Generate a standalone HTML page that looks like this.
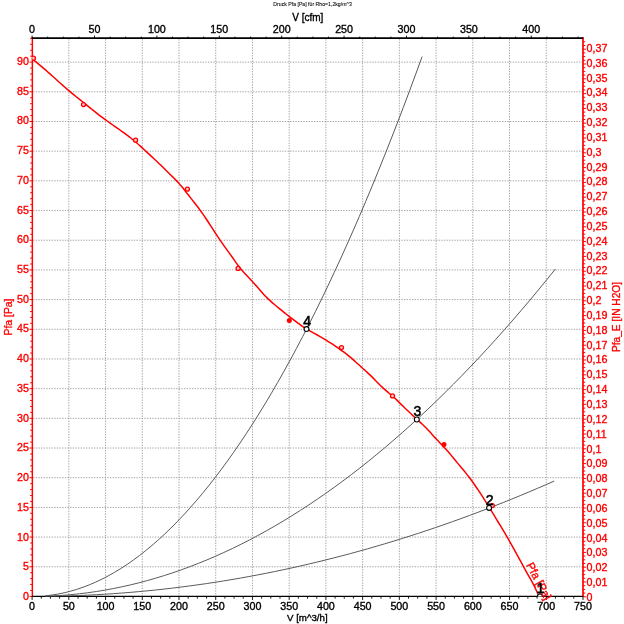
<!DOCTYPE html>
<html><head><meta charset="utf-8"><title>Druck Pfa</title>
<style>
html,body{margin:0;padding:0;background:#fff;width:624px;height:624px;overflow:hidden;}
svg{display:block;will-change:transform;}
text{font-family:"Liberation Sans",Arial,sans-serif;stroke-width:0.35px;}
.r text,text.r{fill:#ff0000;stroke:#ff0000;}
.k text,text.k{fill:#000;stroke:#000;}
</style></head>
<body>
<svg width="624" height="624" viewBox="0 0 624 624">
<rect width="624" height="624" fill="#fff"/>
<path d="M68.83 39.20V596.45M105.55 39.20V596.45M142.28 39.20V596.45M179.00 39.20V596.45M215.72 39.20V596.45M252.45 39.20V596.45M289.18 39.20V596.45M325.90 39.20V596.45M362.63 39.20V596.45M399.35 39.20V596.45M436.08 39.20V596.45M472.80 39.20V596.45M509.53 39.20V596.45M546.25 39.20V596.45M33.10 566.77H582.98M33.10 537.08H582.98M33.10 507.40H582.98M33.10 477.71H582.98M33.10 448.03H582.98M33.10 418.34H582.98M33.10 388.66H582.98M33.10 358.97H582.98M33.10 329.29H582.98M33.10 299.60H582.98M33.10 269.92H582.98M33.10 240.23H582.98M33.10 210.55H582.98M33.10 180.86H582.98M33.10 151.18H582.98M33.10 121.49H582.98M33.10 91.81H582.98M33.10 62.12H582.98" stroke="#a0a0a0" stroke-width="1" stroke-dasharray="1.3 1.35" fill="none"/>
<path d="M29.50 596.45H32.10M30.20 590.51H32.10M30.20 584.58H32.10M30.20 578.64H32.10M30.20 572.70H32.10M29.50 566.77H32.10M30.20 560.83H32.10M30.20 554.89H32.10M30.20 548.95H32.10M30.20 543.02H32.10M29.50 537.08H32.10M30.20 531.14H32.10M30.20 525.21H32.10M30.20 519.27H32.10M30.20 513.33H32.10M29.50 507.40H32.10M30.20 501.46H32.10M30.20 495.52H32.10M30.20 489.58H32.10M30.20 483.65H32.10M29.50 477.71H32.10M30.20 471.77H32.10M30.20 465.84H32.10M30.20 459.90H32.10M30.20 453.96H32.10M29.50 448.03H32.10M30.20 442.09H32.10M30.20 436.15H32.10M30.20 430.21H32.10M30.20 424.28H32.10M29.50 418.34H32.10M30.20 412.40H32.10M30.20 406.47H32.10M30.20 400.53H32.10M30.20 394.59H32.10M29.50 388.66H32.10M30.20 382.72H32.10M30.20 376.78H32.10M30.20 370.84H32.10M30.20 364.91H32.10M29.50 358.97H32.10M30.20 353.03H32.10M30.20 347.10H32.10M30.20 341.16H32.10M30.20 335.22H32.10M29.50 329.29H32.10M30.20 323.35H32.10M30.20 317.41H32.10M30.20 311.47H32.10M30.20 305.54H32.10M29.50 299.60H32.10M30.20 293.66H32.10M30.20 287.73H32.10M30.20 281.79H32.10M30.20 275.85H32.10M29.50 269.92H32.10M30.20 263.98H32.10M30.20 258.04H32.10M30.20 252.10H32.10M30.20 246.17H32.10M29.50 240.23H32.10M30.20 234.29H32.10M30.20 228.36H32.10M30.20 222.42H32.10M30.20 216.48H32.10M29.50 210.55H32.10M30.20 204.61H32.10M30.20 198.67H32.10M30.20 192.73H32.10M30.20 186.80H32.10M29.50 180.86H32.10M30.20 174.92H32.10M30.20 168.99H32.10M30.20 163.05H32.10M30.20 157.11H32.10M29.50 151.18H32.10M30.20 145.24H32.10M30.20 139.30H32.10M30.20 133.36H32.10M30.20 127.43H32.10M29.50 121.49H32.10M30.20 115.55H32.10M30.20 109.62H32.10M30.20 103.68H32.10M30.20 97.74H32.10M29.50 91.81H32.10M30.20 85.87H32.10M30.20 79.93H32.10M30.20 73.99H32.10M30.20 68.06H32.10M29.50 62.12H32.10M30.20 56.18H32.10M30.20 50.25H32.10M30.20 44.31H32.10M30.20 38.37H32.10M582.98 596.80H585.98M582.98 593.10H585.27M582.98 589.40H585.27M582.98 585.70H585.27M582.98 582.00H585.98M582.98 578.30H585.27M582.98 574.60H585.27M582.98 570.90H585.27M582.98 567.20H585.98M582.98 563.50H585.27M582.98 559.80H585.27M582.98 556.10H585.27M582.98 552.40H585.98M582.98 548.70H585.27M582.98 545.00H585.27M582.98 541.30H585.27M582.98 537.60H585.98M582.98 533.90H585.27M582.98 530.20H585.27M582.98 526.50H585.27M582.98 522.80H585.98M582.98 519.10H585.27M582.98 515.40H585.27M582.98 511.70H585.27M582.98 508.00H585.98M582.98 504.30H585.27M582.98 500.60H585.27M582.98 496.90H585.27M582.98 493.20H585.98M582.98 489.50H585.27M582.98 485.80H585.27M582.98 482.10H585.27M582.98 478.40H585.98M582.98 474.70H585.27M582.98 471.00H585.27M582.98 467.30H585.27M582.98 463.60H585.98M582.98 459.90H585.27M582.98 456.20H585.27M582.98 452.50H585.27M582.98 448.80H585.98M582.98 445.10H585.27M582.98 441.40H585.27M582.98 437.70H585.27M582.98 434.00H585.98M582.98 430.30H585.27M582.98 426.60H585.27M582.98 422.90H585.27M582.98 419.20H585.98M582.98 415.50H585.27M582.98 411.80H585.27M582.98 408.10H585.27M582.98 404.40H585.98M582.98 400.70H585.27M582.98 397.00H585.27M582.98 393.30H585.27M582.98 389.60H585.98M582.98 385.90H585.27M582.98 382.20H585.27M582.98 378.50H585.27M582.98 374.80H585.98M582.98 371.10H585.27M582.98 367.40H585.27M582.98 363.70H585.27M582.98 360.00H585.98M582.98 356.30H585.27M582.98 352.60H585.27M582.98 348.90H585.27M582.98 345.20H585.98M582.98 341.50H585.27M582.98 337.80H585.27M582.98 334.10H585.27M582.98 330.40H585.98M582.98 326.70H585.27M582.98 323.00H585.27M582.98 319.30H585.27M582.98 315.60H585.98M582.98 311.90H585.27M582.98 308.20H585.27M582.98 304.50H585.27M582.98 300.80H585.98M582.98 297.10H585.27M582.98 293.40H585.27M582.98 289.70H585.27M582.98 286.00H585.98M582.98 282.30H585.27M582.98 278.60H585.27M582.98 274.90H585.27M582.98 271.20H585.98M582.98 267.50H585.27M582.98 263.80H585.27M582.98 260.10H585.27M582.98 256.40H585.98M582.98 252.70H585.27M582.98 249.00H585.27M582.98 245.30H585.27M582.98 241.60H585.98M582.98 237.90H585.27M582.98 234.20H585.27M582.98 230.50H585.27M582.98 226.80H585.98M582.98 223.10H585.27M582.98 219.40H585.27M582.98 215.70H585.27M582.98 212.00H585.98M582.98 208.30H585.27M582.98 204.60H585.27M582.98 200.90H585.27M582.98 197.20H585.98M582.98 193.50H585.27M582.98 189.80H585.27M582.98 186.10H585.27M582.98 182.40H585.98M582.98 178.70H585.27M582.98 175.00H585.27M582.98 171.30H585.27M582.98 167.60H585.98M582.98 163.90H585.27M582.98 160.20H585.27M582.98 156.50H585.27M582.98 152.80H585.98M582.98 149.10H585.27M582.98 145.40H585.27M582.98 141.70H585.27M582.98 138.00H585.98M582.98 134.30H585.27M582.98 130.60H585.27M582.98 126.90H585.27M582.98 123.20H585.98M582.98 119.50H585.27M582.98 115.80H585.27M582.98 112.10H585.27M582.98 108.40H585.98M582.98 104.70H585.27M582.98 101.00H585.27M582.98 97.30H585.27M582.98 93.60H585.98M582.98 89.90H585.27M582.98 86.20H585.27M582.98 82.50H585.27M582.98 78.80H585.98M582.98 75.10H585.27M582.98 71.40H585.27M582.98 67.70H585.27M582.98 64.00H585.98M582.98 60.30H585.27M582.98 56.60H585.27M582.98 52.90H585.27M582.98 49.20H585.98M582.98 45.50H585.27M582.98 41.80H585.27" stroke="#ff0000" stroke-width="1" fill="none"/>
<path d="M32.10 596.45V599.95M41.28 596.45V598.65M50.46 596.45V598.65M59.64 596.45V598.65M68.83 596.45V599.95M78.01 596.45V598.65M87.19 596.45V598.65M96.37 596.45V598.65M105.55 596.45V599.95M114.73 596.45V598.65M123.91 596.45V598.65M133.09 596.45V598.65M142.28 596.45V599.95M151.46 596.45V598.65M160.64 596.45V598.65M169.82 596.45V598.65M179.00 596.45V599.95M188.18 596.45V598.65M197.36 596.45V598.65M206.54 596.45V598.65M215.72 596.45V599.95M224.91 596.45V598.65M234.09 596.45V598.65M243.27 596.45V598.65M252.45 596.45V599.95M261.63 596.45V598.65M270.81 596.45V598.65M279.99 596.45V598.65M289.18 596.45V599.95M298.36 596.45V598.65M307.54 596.45V598.65M316.72 596.45V598.65M325.90 596.45V599.95M335.08 596.45V598.65M344.26 596.45V598.65M353.44 596.45V598.65M362.63 596.45V599.95M371.81 596.45V598.65M380.99 596.45V598.65M390.17 596.45V598.65M399.35 596.45V599.95M408.53 596.45V598.65M417.71 596.45V598.65M426.89 596.45V598.65M436.08 596.45V599.95M445.26 596.45V598.65M454.44 596.45V598.65M463.62 596.45V598.65M472.80 596.45V599.95M481.98 596.45V598.65M491.16 596.45V598.65M500.34 596.45V598.65M509.53 596.45V599.95M518.71 596.45V598.65M527.89 596.45V598.65M537.07 596.45V598.65M546.25 596.45V599.95M555.43 596.45V598.65M564.61 596.45V598.65M573.79 596.45V598.65M582.98 596.45V599.95M32.10 38.20V35.60M47.70 38.20V36.60M63.30 38.20V36.60M78.90 38.20V36.60M94.50 38.20V35.60M110.10 38.20V36.60M125.69 38.20V36.60M141.29 38.20V36.60M156.89 38.20V35.60M172.49 38.20V36.60M188.09 38.20V36.60M203.69 38.20V36.60M219.29 38.20V35.60M234.89 38.20V36.60M250.49 38.20V36.60M266.09 38.20V36.60M281.68 38.20V35.60M297.28 38.20V36.60M312.88 38.20V36.60M328.48 38.20V36.60M344.08 38.20V35.60M359.68 38.20V36.60M375.28 38.20V36.60M390.88 38.20V36.60M406.48 38.20V35.60M422.08 38.20V36.60M437.67 38.20V36.60M453.27 38.20V36.60M468.87 38.20V35.60M484.47 38.20V36.60M500.07 38.20V36.60M515.67 38.20V36.60M531.27 38.20V35.60M546.87 38.20V36.60M562.47 38.20V36.60M578.07 38.20V36.60" stroke="#000" stroke-width="0.9" fill="none"/>
<path d="M32.35 37.30V596.95" stroke="#ff0000" stroke-width="1.45"/>
<path d="M582.98 37.30V596.95" stroke="#ff0000" stroke-width="1.7"/>
<path d="M31.80 38.20H583.27" stroke="#000" stroke-width="1.8"/>
<path d="M32.10 596.45H583.27" stroke="#000" stroke-width="1.3"/>
<defs><clipPath id="pc"><rect x="32.10" y="38.20" width="550.88" height="558.25"/></clipPath></defs><g clip-path="url(#pc)">
<path d="M45.32,595.83 L51.60,595.10 L57.88,594.09 L64.16,592.80 L70.44,591.23 L76.72,589.38 L83.00,587.26 L89.28,584.85 L95.56,582.16 L101.84,579.19 L108.12,575.94 L114.40,572.41 L120.68,568.60 L126.96,564.52 L133.24,560.15 L139.52,555.50 L145.80,550.57 L152.08,545.36 L158.35,539.88 L164.63,534.11 L170.91,528.06 L177.19,521.73 L183.47,515.13 L189.75,508.24 L196.03,501.07 L202.31,493.63 L208.59,485.90 L214.87,477.89 L221.15,469.61 L227.43,461.04 L233.71,452.19 L239.99,443.07 L246.27,433.66 L252.55,423.97 L258.83,414.01 L265.11,403.76 L271.39,393.23 L277.67,382.43 L283.95,371.34 L290.23,359.98 L296.51,348.33 L302.79,336.41 L309.07,324.20 L315.35,311.72 L321.63,298.95 L327.91,285.90 L334.18,272.58 L340.46,258.97 L346.74,245.09 L353.02,230.92 L359.30,216.48 L365.58,201.76 L371.86,186.75 L378.14,171.47 L384.42,155.90 L390.70,140.06 L396.98,123.93 L403.26,107.53 L409.54,90.85 L415.82,73.88 L422.10,56.64M45.32,596.24 L53.82,595.89 L62.32,595.36 L70.82,594.66 L79.33,593.78 L87.83,592.74 L96.33,591.52 L104.83,590.13 L113.33,588.56 L121.83,586.82 L130.33,584.91 L138.84,582.83 L147.34,580.57 L155.84,578.14 L164.34,575.54 L172.84,572.77 L181.34,569.82 L189.84,566.70 L198.34,563.40 L206.85,559.94 L215.35,556.30 L223.85,552.49 L232.35,548.50 L240.85,544.35 L249.35,540.02 L257.85,535.51 L266.36,530.84 L274.86,525.99 L283.36,520.97 L291.86,515.77 L300.36,510.40 L308.86,504.86 L317.36,499.15 L325.86,493.27 L334.37,487.21 L342.87,480.98 L351.37,474.57 L359.87,468.00 L368.37,461.25 L376.87,454.32 L385.37,447.23 L393.87,439.96 L402.38,432.52 L410.88,424.90 L419.38,417.12 L427.88,409.16 L436.38,401.02 L444.88,392.72 L453.38,384.24 L461.89,375.59 L470.39,366.77 L478.89,357.77 L487.39,348.60 L495.89,339.26 L504.39,329.74 L512.89,320.05 L521.39,310.19 L529.90,300.16 L538.40,289.95 L546.90,279.57 L555.40,269.02M45.32,596.38 L53.80,596.25 L62.28,596.06 L70.76,595.82 L79.25,595.51 L87.73,595.14 L96.21,594.71 L104.69,594.22 L113.17,593.67 L121.65,593.06 L130.13,592.38 L138.62,591.65 L147.10,590.85 L155.58,590.00 L164.06,589.08 L172.54,588.10 L181.02,587.06 L189.50,585.96 L197.98,584.80 L206.47,583.58 L214.95,582.30 L223.43,580.96 L231.91,579.55 L240.39,578.09 L248.87,576.56 L257.35,574.97 L265.84,573.33 L274.32,571.62 L282.80,569.85 L291.28,568.02 L299.76,566.13 L308.24,564.18 L316.72,562.16 L325.20,560.09 L333.69,557.95 L342.17,555.76 L350.65,553.50 L359.13,551.18 L367.61,548.81 L376.09,546.37 L384.57,543.87 L393.05,541.31 L401.54,538.68 L410.02,536.00 L418.50,533.26 L426.98,530.45 L435.46,527.59 L443.94,524.66 L452.42,521.67 L460.91,518.63 L469.39,515.52 L477.87,512.35 L486.35,509.12 L494.83,505.82 L503.31,502.47 L511.79,499.06 L520.27,495.58 L528.76,492.05 L537.24,488.45 L545.72,484.80 L554.20,481.08" stroke="#5a5a5a" stroke-width="1.0" fill="none" stroke-linejoin="round"/>
<path d="M32.00 58.91C32.50 59.29 34.00 60.41 34.99 61.19C35.99 61.96 36.99 62.76 37.99 63.57C38.98 64.38 39.98 65.21 40.98 66.05C41.98 66.89 42.97 67.74 43.97 68.60C44.97 69.46 45.97 70.33 46.96 71.21C47.96 72.09 48.96 72.98 49.96 73.87C50.96 74.76 51.95 75.66 52.95 76.55C53.95 77.45 54.95 78.35 55.94 79.25C56.94 80.15 57.94 81.05 58.94 81.94C59.93 82.84 60.93 83.73 61.93 84.62C62.93 85.50 63.92 86.38 64.92 87.25C65.92 88.12 66.92 88.99 67.91 89.84C68.91 90.69 69.91 91.52 70.91 92.35C71.91 93.18 72.90 94.00 73.90 94.81C74.90 95.62 75.90 96.42 76.89 97.22C77.89 98.02 78.89 98.82 79.89 99.61C80.88 100.41 81.88 101.21 82.88 102.01C83.88 102.81 84.87 103.61 85.87 104.42C86.87 105.23 87.87 106.04 88.87 106.85C89.86 107.66 90.86 108.48 91.86 109.28C92.86 110.09 93.85 110.90 94.85 111.69C95.85 112.49 96.85 113.28 97.84 114.05C98.84 114.83 99.84 115.60 100.84 116.35C101.83 117.10 102.83 117.84 103.83 118.58C104.83 119.31 105.82 120.03 106.82 120.75C107.82 121.46 108.82 122.17 109.82 122.88C110.81 123.59 111.81 124.28 112.81 124.99C113.81 125.69 114.80 126.38 115.80 127.08C116.80 127.78 117.80 128.48 118.79 129.18C119.79 129.89 120.79 130.59 121.79 131.30C122.78 132.02 123.78 132.74 124.78 133.47C125.78 134.20 126.78 134.94 127.77 135.70C128.77 136.45 129.77 137.22 130.77 138.01C131.76 138.80 132.76 139.61 133.76 140.44C134.76 141.27 135.75 142.12 136.75 142.98C137.75 143.85 138.75 144.73 139.74 145.62C140.74 146.51 141.74 147.42 142.74 148.33C143.73 149.25 144.73 150.17 145.73 151.09C146.73 152.02 147.73 152.95 148.72 153.88C149.72 154.81 150.72 155.74 151.72 156.66C152.71 157.59 153.71 158.51 154.71 159.43C155.71 160.36 156.70 161.28 157.70 162.22C158.70 163.16 159.70 164.10 160.69 165.06C161.69 166.02 162.69 167.01 163.69 168.00C164.69 168.99 165.68 170.00 166.68 170.99C167.68 171.99 168.68 172.98 169.67 173.96C170.67 174.94 171.67 175.89 172.67 176.87C173.66 177.86 174.66 178.83 175.66 179.87C176.66 180.91 177.65 181.98 178.65 183.10C179.65 184.22 180.65 185.40 181.64 186.60C182.64 187.79 183.64 189.03 184.64 190.28C185.64 191.52 186.63 192.79 187.63 194.06C188.63 195.32 189.63 196.60 190.62 197.87C191.62 199.14 192.62 200.40 193.62 201.68C194.61 202.96 195.61 204.24 196.61 205.55C197.61 206.85 198.60 208.17 199.60 209.52C200.60 210.87 201.60 212.23 202.60 213.64C203.59 215.05 204.59 216.49 205.59 217.97C206.59 219.44 207.58 220.97 208.58 222.50C209.58 224.03 210.58 225.60 211.57 227.15C212.57 228.71 213.57 230.28 214.57 231.83C215.56 233.38 216.56 234.93 217.56 236.45C218.56 237.96 219.56 239.45 220.55 240.90C221.55 242.35 222.55 243.75 223.55 245.15C224.54 246.55 225.54 247.91 226.54 249.28C227.54 250.65 228.53 252.00 229.53 253.37C230.53 254.75 231.53 256.13 232.52 257.53C233.52 258.94 234.52 260.40 235.52 261.81C236.51 263.23 237.51 264.68 238.51 266.02C239.51 267.36 240.51 268.65 241.50 269.84C242.50 271.04 243.50 272.09 244.50 273.16C245.49 274.23 246.49 275.23 247.49 276.28C248.49 277.32 249.48 278.36 250.48 279.43C251.48 280.50 252.48 281.58 253.47 282.69C254.47 283.80 255.47 284.95 256.47 286.10C257.47 287.25 258.46 288.43 259.46 289.58C260.46 290.72 261.46 291.89 262.45 292.99C263.45 294.10 264.45 295.18 265.45 296.21C266.44 297.24 267.44 298.21 268.44 299.16C269.44 300.12 270.43 301.02 271.43 301.91C272.43 302.80 273.43 303.65 274.42 304.50C275.42 305.34 276.42 306.16 277.42 306.98C278.42 307.80 279.41 308.61 280.41 309.42C281.41 310.23 282.41 311.04 283.40 311.85C284.40 312.65 285.40 313.45 286.40 314.25C287.39 315.04 288.39 315.83 289.39 316.62C290.39 317.40 291.38 318.17 292.38 318.94C293.38 319.71 294.38 320.47 295.38 321.21C296.37 321.96 297.37 322.70 298.37 323.41C299.37 324.13 300.36 324.84 301.36 325.53C302.36 326.22 303.36 326.89 304.35 327.54C305.35 328.18 306.35 328.81 307.35 329.42C308.34 330.02 309.34 330.60 310.34 331.17C311.34 331.75 312.33 332.30 313.33 332.85C314.33 333.41 315.33 333.95 316.33 334.50C317.32 335.05 318.32 335.60 319.32 336.16C320.32 336.73 321.31 337.30 322.31 337.88C323.31 338.47 324.31 339.07 325.30 339.68C326.30 340.28 327.30 340.91 328.30 341.54C329.29 342.17 330.29 342.81 331.29 343.46C332.29 344.11 333.29 344.77 334.28 345.44C335.28 346.10 336.28 346.78 337.28 347.47C338.27 348.15 339.27 348.84 340.27 349.55C341.27 350.25 342.26 350.97 343.26 351.70C344.26 352.44 345.26 353.18 346.25 353.95C347.25 354.72 348.25 355.51 349.25 356.32C350.24 357.13 351.24 357.96 352.24 358.82C353.24 359.67 354.24 360.56 355.23 361.46C356.23 362.36 357.23 363.28 358.23 364.20C359.22 365.12 360.22 366.05 361.22 366.96C362.22 367.88 363.21 368.78 364.21 369.68C365.21 370.57 366.21 371.44 367.20 372.35C368.20 373.26 369.20 374.19 370.20 375.15C371.20 376.11 372.19 377.11 373.19 378.11C374.19 379.11 375.19 380.15 376.18 381.16C377.18 382.18 378.18 383.20 379.18 384.20C380.17 385.19 381.17 386.19 382.17 387.13C383.17 388.07 384.16 388.98 385.16 389.86C386.16 390.74 387.16 391.57 388.16 392.42C389.15 393.26 390.15 394.08 391.15 394.93C392.15 395.79 393.14 396.64 394.14 397.55C395.14 398.45 396.14 399.41 397.13 400.38C398.13 401.34 399.13 402.36 400.13 403.34C401.12 404.32 402.12 405.31 403.12 406.28C404.12 407.26 405.11 408.22 406.11 409.18C407.11 410.14 408.11 411.09 409.11 412.04C410.10 412.98 411.10 413.92 412.10 414.86C413.10 415.79 414.09 416.72 415.09 417.64C416.09 418.56 417.09 419.47 418.08 420.38C419.08 421.29 420.08 422.20 421.08 423.12C422.07 424.05 423.07 424.98 424.07 425.94C425.07 426.90 426.07 427.88 427.06 428.91C428.06 429.93 429.06 431.01 430.06 432.09C431.05 433.18 432.05 434.31 433.05 435.41C434.05 436.52 435.04 437.64 436.04 438.72C437.04 439.80 438.04 440.85 439.03 441.90C440.03 442.95 441.03 443.98 442.03 445.04C443.02 446.10 444.02 447.16 445.02 448.25C446.02 449.35 447.02 450.47 448.01 451.61C449.01 452.76 450.01 453.93 451.01 455.12C452.00 456.30 453.00 457.51 454.00 458.72C455.00 459.93 455.99 461.16 456.99 462.37C457.99 463.57 458.99 464.79 459.98 465.98C460.98 467.17 461.98 468.33 462.98 469.52C463.98 470.71 464.97 471.89 465.97 473.13C466.97 474.37 467.97 475.65 468.96 476.96C469.96 478.28 470.96 479.63 471.96 481.01C472.95 482.39 473.95 483.81 474.95 485.25C475.95 486.69 476.94 488.16 477.94 489.65C478.94 491.14 479.94 492.66 480.93 494.20C481.93 495.73 482.93 497.29 483.93 498.87C484.93 500.44 485.92 502.03 486.92 503.64C487.92 505.24 488.92 506.86 489.91 508.48C490.91 510.11 491.91 511.74 492.91 513.38C493.90 515.02 494.90 516.67 495.90 518.31C496.90 519.96 497.89 521.61 498.89 523.25C499.89 524.90 500.89 526.54 501.89 528.19C502.88 529.84 503.88 531.49 504.88 533.16C505.88 534.84 506.87 536.53 507.87 538.26C508.87 539.99 509.87 541.74 510.86 543.52C511.86 545.29 512.86 547.09 513.86 548.90C514.85 550.71 515.85 552.54 516.85 554.37C517.85 556.20 518.84 558.04 519.84 559.87C520.84 561.70 521.84 563.54 522.84 565.36C523.83 567.18 524.83 568.99 525.83 570.79C526.83 572.58 527.82 574.33 528.82 576.11C529.82 577.89 530.82 579.61 531.81 581.45C532.81 583.30 533.81 585.15 534.81 587.20C535.80 589.26 537.30 592.68 537.80 593.77" stroke="#ff0000" stroke-width="1.5" fill="none" stroke-linejoin="round"/>
<g stroke="#ff0000" stroke-width="1.3"><circle cx="33.5" cy="58.2" r="2.0" fill="#ffc8c8"/><circle cx="83.5" cy="104.6" r="2.0" fill="#ffc8c8"/><circle cx="135.6" cy="140.2" r="2.0" fill="#ffc8c8"/><circle cx="187.4" cy="189.2" r="2.0" fill="#ffc8c8"/><circle cx="238.1" cy="268.4" r="2.0" fill="#ffc8c8"/><circle cx="289.3" cy="320.5" r="2.5" fill="#ff0000" stroke="none"/><circle cx="341.5" cy="347.6" r="2.0" fill="#ffc8c8"/><circle cx="392.5" cy="395.9" r="2.0" fill="#ffc8c8"/><circle cx="444.0" cy="444.5" r="2.5" fill="#ff0000" stroke="none"/><circle cx="492.3" cy="505.6" r="2.0" fill="#ffc8c8"/></g>
<g fill="#fff" stroke="#000" stroke-width="1.1"><circle cx="539.9" cy="596.3" r="2.45"/><circle cx="489.1" cy="507.9" r="2.45"/><circle cx="416.8" cy="419.5" r="2.45"/><circle cx="306.5" cy="329.1" r="2.45"/></g>
</g>
<text x="0" y="0" transform="translate(525.9 565.0) rotate(62)" class="r" font-size="11.4">Pfa [Pa]</text>
<text x="540.5" y="593.1" text-anchor="middle" font-size="14" class="k" style="stroke-width:0.55px">1</text>
<text x="489.7" y="504.7" text-anchor="middle" font-size="14" class="k" style="stroke-width:0.55px">2</text>
<text x="417.4" y="416.3" text-anchor="middle" font-size="14" class="k" style="stroke-width:0.55px">3</text>
<text x="307.1" y="325.9" text-anchor="middle" font-size="14" class="k" style="stroke-width:0.55px">4</text>
<g class="r" font-size="10.7"><text x="28.9" y="600.05" text-anchor="end">0</text><text x="28.9" y="570.32" text-anchor="end">5</text><text x="28.9" y="540.59" text-anchor="end">10</text><text x="28.9" y="510.86" text-anchor="end">15</text><text x="28.9" y="481.13" text-anchor="end">20</text><text x="28.9" y="451.40" text-anchor="end">25</text><text x="28.9" y="421.67" text-anchor="end">30</text><text x="28.9" y="391.94" text-anchor="end">35</text><text x="28.9" y="362.21" text-anchor="end">40</text><text x="28.9" y="332.48" text-anchor="end">45</text><text x="28.9" y="302.75" text-anchor="end">50</text><text x="28.9" y="273.02" text-anchor="end">55</text><text x="28.9" y="243.29" text-anchor="end">60</text><text x="28.9" y="213.56" text-anchor="end">65</text><text x="28.9" y="183.83" text-anchor="end">70</text><text x="28.9" y="154.10" text-anchor="end">75</text><text x="28.9" y="124.37" text-anchor="end">80</text><text x="28.9" y="94.64" text-anchor="end">85</text><text x="28.9" y="64.91" text-anchor="end">90</text></g>
<g class="r" font-size="10.7"><text x="586.6" y="600.90">0</text><text x="586.6" y="586.06">0,01</text><text x="586.6" y="571.22">0,02</text><text x="586.6" y="556.38">0,03</text><text x="586.6" y="541.54">0,04</text><text x="586.6" y="526.70">0,05</text><text x="586.6" y="511.86">0,06</text><text x="586.6" y="497.02">0,07</text><text x="586.6" y="482.18">0,08</text><text x="586.6" y="467.34">0,09</text><text x="586.6" y="452.50">0,1</text><text x="586.6" y="437.66">0,11</text><text x="586.6" y="422.82">0,12</text><text x="586.6" y="407.98">0,13</text><text x="586.6" y="393.14">0,14</text><text x="586.6" y="378.30">0,15</text><text x="586.6" y="363.46">0,16</text><text x="586.6" y="348.62">0,17</text><text x="586.6" y="333.78">0,18</text><text x="586.6" y="318.94">0,19</text><text x="586.6" y="304.10">0,2</text><text x="586.6" y="289.26">0,21</text><text x="586.6" y="274.42">0,22</text><text x="586.6" y="259.58">0,23</text><text x="586.6" y="244.74">0,24</text><text x="586.6" y="229.90">0,25</text><text x="586.6" y="215.06">0,26</text><text x="586.6" y="200.22">0,27</text><text x="586.6" y="185.38">0,28</text><text x="586.6" y="170.54">0,29</text><text x="586.6" y="155.70">0,3</text><text x="586.6" y="140.86">0,31</text><text x="586.6" y="126.02">0,32</text><text x="586.6" y="111.18">0,33</text><text x="586.6" y="96.34">0,34</text><text x="586.6" y="81.50">0,35</text><text x="586.6" y="66.66">0,36</text><text x="586.6" y="51.82">0,37</text></g>
<g class="k" font-size="10.7"><text x="32.10" y="609.5" text-anchor="middle">0</text><text x="68.83" y="609.5" text-anchor="middle">50</text><text x="105.55" y="609.5" text-anchor="middle">100</text><text x="142.28" y="609.5" text-anchor="middle">150</text><text x="179.00" y="609.5" text-anchor="middle">200</text><text x="215.72" y="609.5" text-anchor="middle">250</text><text x="252.45" y="609.5" text-anchor="middle">300</text><text x="289.18" y="609.5" text-anchor="middle">350</text><text x="325.90" y="609.5" text-anchor="middle">400</text><text x="362.63" y="609.5" text-anchor="middle">450</text><text x="399.35" y="609.5" text-anchor="middle">500</text><text x="436.08" y="609.5" text-anchor="middle">550</text><text x="472.80" y="609.5" text-anchor="middle">600</text><text x="509.53" y="609.5" text-anchor="middle">650</text><text x="546.25" y="609.5" text-anchor="middle">700</text><text x="582.98" y="609.5" text-anchor="middle">750</text><text x="32.10" y="32.8" text-anchor="middle">0</text><text x="94.50" y="32.8" text-anchor="middle">50</text><text x="156.89" y="32.8" text-anchor="middle">100</text><text x="219.29" y="32.8" text-anchor="middle">150</text><text x="281.68" y="32.8" text-anchor="middle">200</text><text x="344.08" y="32.8" text-anchor="middle">250</text><text x="406.48" y="32.8" text-anchor="middle">300</text><text x="468.87" y="32.8" text-anchor="middle">350</text><text x="531.27" y="32.8" text-anchor="middle">400</text></g>
<text x="307.3" y="620.5" text-anchor="middle" font-size="9.7" class="k">V [m^3/h]</text>
<text x="307.8" y="20.6" text-anchor="middle" font-size="10" class="k">V [cfm]</text>
<text x="273.3" y="6.0" textLength="78.5" lengthAdjust="spacingAndGlyphs" font-size="5.4" class="k" style="stroke-width:0.08px">Druck Pfa [Pa] f&#252;r Rho=1,2kg/m^3</text>
<text transform="translate(11.8 317) rotate(-90)" text-anchor="middle" font-size="10.4" class="r">Pfa [Pa]</text>
<text transform="translate(619.8 317.0) rotate(-90)" text-anchor="middle" font-size="10.2" class="r">Pfa_E [IN H2O]</text>
</svg>
</body></html>
